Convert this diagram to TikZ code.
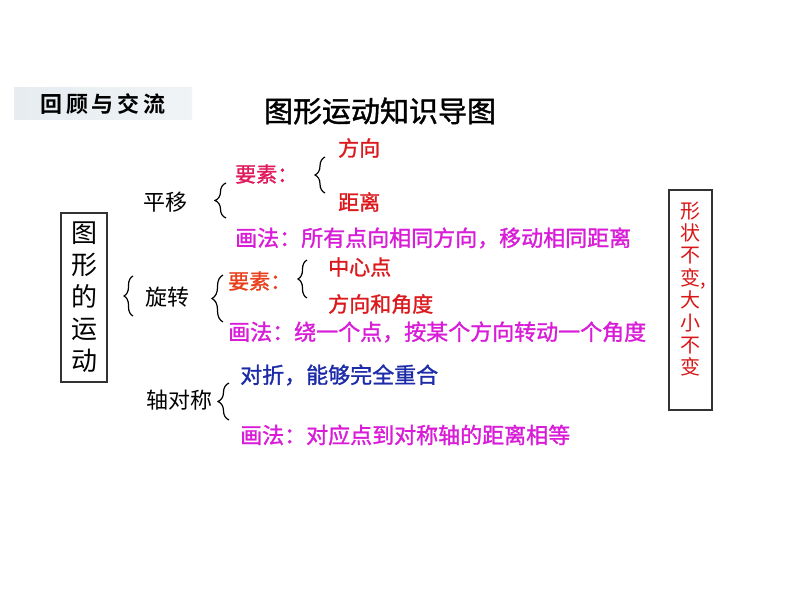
\documentclass[tikz,border=0pt]{standalone}
\usepackage{fontspec}
\setmainfont{Noto Sans CJK SC}
\newfontfamily\cjk{Noto Sans CJK SC}
\newfontfamily\cjkm[FakeBold=1.3]{Noto Sans CJK SC}
\newfontfamily\cjkb{Noto Sans CJK SC Bold}
\usetikzlibrary{decorations.pathreplacing}
\definecolor{redA}{HTML}{DC1A1E}
\definecolor{crim}{HTML}{E0185C}
\definecolor{ored}{HTML}{E8401C}
\definecolor{mag}{HTML}{D81CD8}
\definecolor{bluA}{HTML}{1C2BA8}
\definecolor{boxred}{HTML}{D81818}
\definecolor{banner}{HTML}{E6ECF0}
\tikzset{
  lbl/.style={anchor=west, inner sep=0pt, font=\cjk\fontsize{22}{22}\selectfont},
  clbl/.style={anchor=west, inner sep=0pt, font=\cjkm\fontsize{21}{21}\selectfont},
  mlbl/.style={anchor=west, inner sep=0pt, font=\cjkm\fontsize{22}{22}\selectfont},
  brc/.style={decorate, decoration={brace, amplitude=#1}, line width=1.2pt},
  frame/.style={draw=black!80, line width=1.1pt, inner sep=0pt}
}
\begin{document}
\begin{tikzpicture}[x=1pt,y=-1pt]
\useasboundingbox (0,0) rectangle (794,596);
\fill[white] (0,0) rectangle (794,596);
% banner
\shade[left color=banner, right color=banner!60!white] (14,88) rectangle (192,120);
\node[anchor=center, inner sep=0pt, font=\cjkb\fontsize{22}{22}\selectfont] (banner) at (103,104) {回\,顾\,与\,交\,流};
% title
\node[anchor=center, inner sep=0pt, font=\cjkm\fontsize{29}{29}\selectfont] (title) at (380,111) {图形运动知识导图};
% left box
\node[frame, draw, minimum width=46, minimum height=169, align=center, font=\cjk\fontsize{26}{32}\selectfont] (motion) at (84,297.5) {图\\形\\的\\运\\动};
% right box
\node[frame, draw, minimum width=43, minimum height=220] (rbox) at (690.5,300) {};
\node[inner sep=0pt, align=center, text=boxred, font=\cjk\fontsize{20}{22.4}\selectfont] (rtext) at (690.5,289) {形\\状\\不\\变\rlap{,}\\大\\小\\不\\变};
% translation
\node[lbl] (py) at (143,202) {平移};
\node[clbl, text=crim] (ys1) at (235,174) {要素：};
\node[clbl, text=redA] (fx1) at (338,148) {方向};
\node[clbl, text=redA] (jl1) at (338,202) {距离};
\node[mlbl, text=mag] (hf1) at (235,238) {画法：所有点向相同方向，移动相同距离};
\draw[brc=10] (325,193) -- (325,157);
\draw[brc=11] (226,218) -- (226,183);
% rotation
\draw[brc=9] (133,316) -- (133,276);
\node[lbl] (xz) at (145,297) {旋转};
\draw[brc=11] (223,322) -- (223,275);
\node[clbl, text=ored] (ys2) at (228,281) {要素：};
\draw[brc=9] (307,298) -- (307,260);
\node[clbl, text=redA] (zx) at (328,267) {中心点};
\node[clbl, text=redA] (fxjd) at (328,304) {方向和角度};
\node[mlbl, text=mag] (hf2) at (228,332) {画法：绕一个点，按某个方向转动一个角度};
% reflection
\node[mlbl, text=bluA] (dz) at (240,375) {对折，能够完全重合};
\node[lbl] (zdc) at (146,400) {轴对称};
\draw[brc=11] (229,420) -- (229,383);
\node[mlbl, text=mag] (hf3) at (240,435) {画法：对应点到对称轴的距离相等};
\end{tikzpicture}
\end{document}
